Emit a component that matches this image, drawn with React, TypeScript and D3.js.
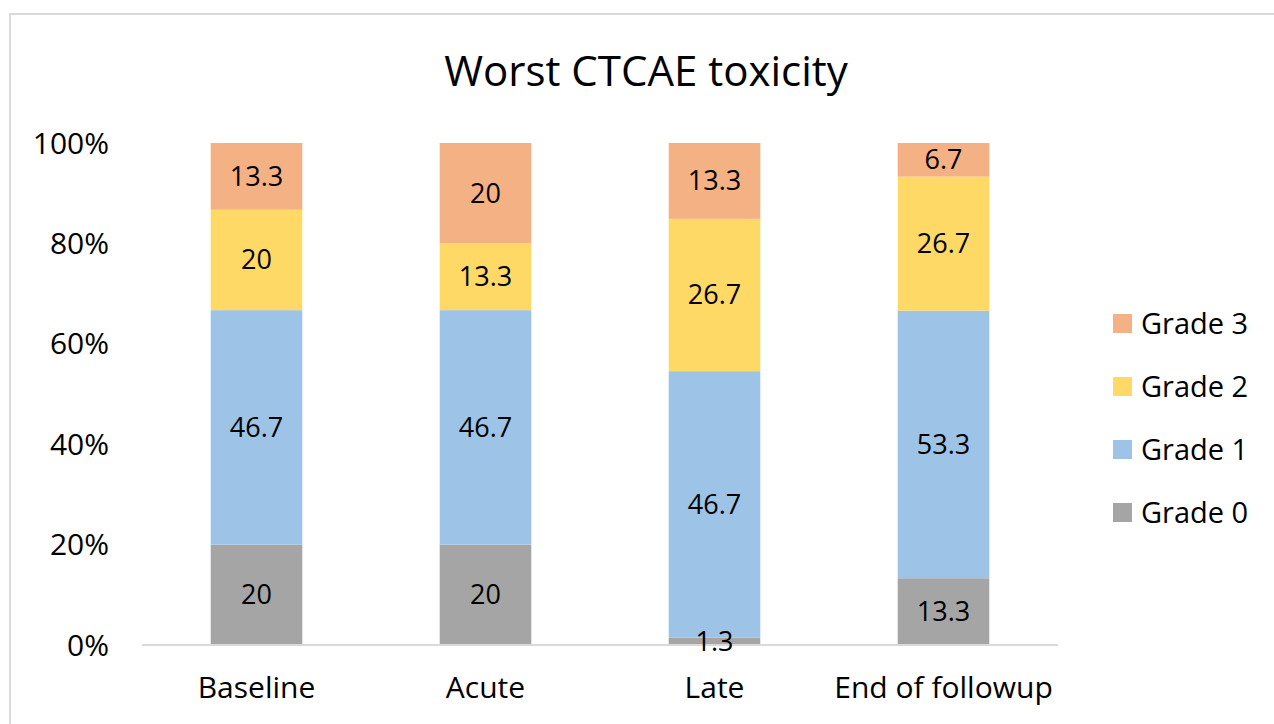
import React from "react";
import * as d3 from "d3";

const categories = ["Baseline", "Acute", "Late", "End of followup"];
const grades = ["Grade 0", "Grade 1", "Grade 2", "Grade 3"];
const grade0 = [20, 20, 1.3, 13.3];
const grade1 = [46.7, 46.7, 46.7, 53.3];
const grade2 = [20, 13.3, 26.7, 26.7];
const grade3 = [13.3, 20, 13.3, 6.7];
const yTicks = [0, 0.2, 0.4, 0.6, 0.8, 1];
const colors = ["#A5A5A5", "#9DC3E6", "#FFD966", "#F4B183"];
const title = "Worst CTCAE toxicity";

const W = 1274;
const H = 724;
const FONT = "'Open Sans', sans-serif";

export default function App() {
  const series = [grade0, grade1, grade2, grade3];
  const rows = categories.map((c, i) => {
    const r: any = { cat: c };
    grades.forEach((g, k) => (r[g] = series[k][i]));
    return r;
  });
  const stacked = d3.stack().keys(grades).offset(d3.stackOffsetExpand)(rows);

  const x = d3
    .scaleBand()
    .domain(categories)
    .range([142, 1058])
    .paddingInner(0.6)
    .paddingOuter(0.3);
  const y = d3.scaleLinear().domain([0, 1]).range([645, 143]);
  const fmt = d3.format(".0%");

  return (
    <svg
      width={W}
      height={H}
      style={{ position: "absolute", left: 0, top: 0, background: "#fff" }}
      fontFamily={FONT}
    >
      <rect x={10} y={14} width={W + 20} height={H + 20} fill="#fff" stroke="#D9D9D9" strokeWidth={2} />
      <text x={646} y={86} textAnchor="middle" fontSize={42} fill="#000">
        {title}
      </text>
      {yTicks.map((t) => (
        <text key={t} x={109} y={y(t)} dy="0.35em" textAnchor="end" fontSize={30} fill="#000">
          {fmt(t)}
        </text>
      ))}
      {stacked.map((s, k) => (
        <g key={s.key} fill={colors[k]}>
          {s.map((d: any, i: number) => (
            <rect
              key={i}
              x={x(categories[i])}
              width={x.bandwidth()}
              y={y(d[1])}
              height={y(d[0]) - y(d[1])}
            />
          ))}
        </g>
      ))}
      <line x1={142} x2={1058} y1={y(0)} y2={y(0)} stroke="#D9D9D9" strokeWidth={2} />
      {stacked.map((s, k) =>
        s.map((d: any, i: number) => (
          <text
            key={s.key + i}
            x={(x(categories[i]) as number) + x.bandwidth() / 2}
            y={(y(d[0]) + y(d[1])) / 2}
            dy="0.35em"
            textAnchor="middle"
            fontSize={27}
            fill="#000"
          >
            {String(series[k][i])}
          </text>
        ))
      )}
      {categories.map((c) => (
        <text
          key={c}
          x={(x(c) as number) + x.bandwidth() / 2}
          y={698}
          textAnchor="middle"
          fontSize={30}
          fill="#000"
        >
          {c}
        </text>
      ))}
      {grades
        .slice()
        .reverse()
        .map((g, j) => {
          const k = grades.length - 1 - j;
          const cy = 323.5 + j * 63;
          return (
            <g key={g}>
              <rect x={1113} y={cy - 9.5} width={19} height={19} fill={colors[k]} />
              <text x={1141} y={cy} dy="0.35em" fontSize={29} fill="#000">
                {g}
              </text>
            </g>
          );
        })}
    </svg>
  );
}
